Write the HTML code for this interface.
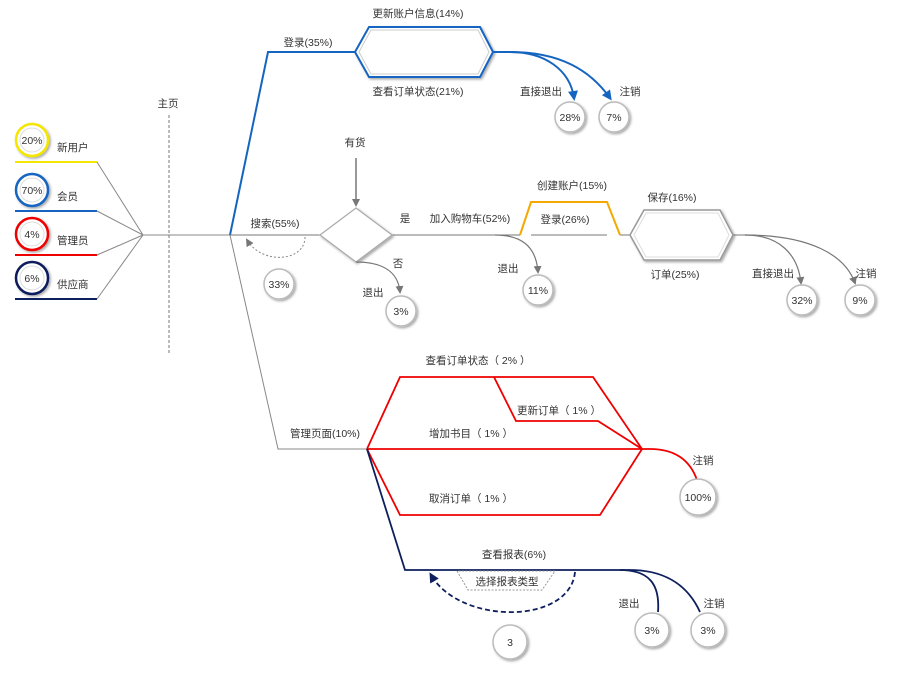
<!DOCTYPE html>
<html><head><meta charset="utf-8"><style>
html,body{margin:0;padding:0;background:#fff;}
svg{display:block;}
text{font-family:"Liberation Sans","Noto Sans CJK SC",sans-serif;font-size:10.5px;fill:#333;}
</style></head><body>
<svg width="904" height="673" viewBox="0 0 904 673" xmlns="http://www.w3.org/2000/svg">
<defs>
<marker id="ag" markerWidth="8" markerHeight="8" refX="6" refY="4" orient="auto" markerUnits="userSpaceOnUse"><path d="M0,0 L8,4 L0,8 Z" fill="#777"/></marker>
<marker id="ab" markerWidth="10" markerHeight="10" refX="7" refY="5" orient="auto" markerUnits="userSpaceOnUse"><path d="M0,0 L10,5 L0,10 Z" fill="#1565c0"/></marker>
<marker id="an" markerWidth="10" markerHeight="10" refX="7" refY="5" orient="auto" markerUnits="userSpaceOnUse"><path d="M0,0 L10,5 L0,10 Z" fill="#0d1f5c"/></marker>
<filter id="sh" x="-30%" y="-30%" width="160%" height="160%"><feDropShadow dx="1.5" dy="1.5" stdDeviation="1.2" flood-color="#000" flood-opacity="0.35"/></filter>
</defs>
<g fill="none" stroke-linejoin="miter">
<line x1="15" y1="162" x2="97" y2="162" stroke="#f5e600" stroke-width="2"/>
<line x1="15" y1="211" x2="97" y2="211" stroke="#1565c0" stroke-width="2"/>
<line x1="15" y1="255" x2="97" y2="255" stroke="#e00" stroke-width="2"/>
<line x1="15" y1="299" x2="97" y2="299" stroke="#0d1f5c" stroke-width="2"/>
<path d="M97,162 L143,235 M97,211 L143,235 M97,255 L143,235 M97,299 L143,235 M143,235 L230,235" stroke="#888" stroke-width="1"/>
<line x1="169" y1="115" x2="169" y2="355" stroke="#777" stroke-dasharray="3,2"/>
<path d="M230,235 L268,52 L355,52" stroke="#1565c0" stroke-width="2"/>
<polygon points="355,52 369,27 480,27 493,52 480,77 369,77" stroke="#1565c0" stroke-width="2" fill="#fff" filter="url(#sh)"/>
<polygon points="359,52 371,30 478,30 489,52 478,74 371,74" stroke="#ccc" stroke-width="1"/>
<path d="M493,52 L510,52 C545,52 570,70 574,98" stroke="#1565c0" stroke-width="2" marker-end="url(#ab)"/>
<path d="M510,52 C560,52 590,70 610,98" stroke="#1565c0" stroke-width="2" marker-end="url(#ab)"/>
<path d="M230,235 L320,235 M392,235 L520,235 M620,235 L630,235 M733,235 L745,235" stroke="#777" stroke-width="1"/>
<polygon points="320,235 356,208 392,235 356,262" stroke="#aaa" stroke-width="1.2" fill="#fff" filter="url(#sh)"/>
<path d="M520,235 L531,202 L607,202 L620,235" stroke="#f5a800" stroke-width="2"/>
<line x1="531" y1="235" x2="607" y2="235" stroke="#777"/>
<polygon points="630,235 644,210 720,210 733,235 720,260 644,260" stroke="#999" stroke-width="1.5" fill="#fff" filter="url(#sh)"/>
<polygon points="634,235 646,213 718,213 729,235 718,257 646,257" stroke="#ddd" stroke-width="1"/>
<line x1="356" y1="158" x2="356" y2="205" stroke="#777" stroke-width="1.5" marker-end="url(#ag)"/>
<path d="M305,237 C305,262 262,265 247,240" stroke="#888" stroke-dasharray="2,2" marker-end="url(#ag)"/>
<path d="M356,262 C380,262 398,270 400,292" stroke="#777" stroke-width="1.2" marker-end="url(#ag)"/>
<path d="M495,235 C520,235 536,245 538,272" stroke="#777" stroke-width="1.2" marker-end="url(#ag)"/>
<path d="M745,235 C780,235 798,255 801,283" stroke="#777" stroke-width="1.2" marker-end="url(#ag)"/>
<path d="M745,235 C810,235 845,255 855,283" stroke="#777" stroke-width="1.2" marker-end="url(#ag)"/>
<path d="M230,235 L278,449 L367,449" stroke="#888" stroke-width="1"/>
<path d="M367,449 L400,377 L593,377 L642,449 M367,449 L642,449 M367,449 L400,515 L600,515 L642,449 M494,377 L516,421 L598,421 L642,449" stroke="#e00" stroke-width="1.8"/>
<path d="M642,449 L650,449 C675,449 690,460 697,480" stroke="#e00" stroke-width="1.8"/>
<path d="M367,449 L405,570 L630,570" stroke="#0d1f5c" stroke-width="1.8"/>
<path d="M620,570 C650,570 660,585 658,612" stroke="#0d1f5c" stroke-width="1.8"/>
<path d="M630,570 C670,570 690,590 700,612" stroke="#0d1f5c" stroke-width="1.8"/>
<polygon points="457,571 468,590 542,590 555,571" stroke="#999" stroke-dasharray="2,1.5" fill="#fff"/>
<path d="M575,572 C570,625 460,625 431,575" stroke="#0d1f5c" stroke-width="1.8" stroke-dasharray="5,3" marker-end="url(#an)"/>
</g>
<g filter="url(#sh)">
<circle cx="32" cy="140" r="16" fill="#fff" stroke="#f5e600" stroke-width="2.5"/>
<circle cx="32" cy="190" r="16" fill="#fff" stroke="#1565c0" stroke-width="2.5"/>
<circle cx="32" cy="234" r="16" fill="#fff" stroke="#e00" stroke-width="2.5"/>
<circle cx="32" cy="278" r="16" fill="#fff" stroke="#0d1f5c" stroke-width="2.5"/>
</g>
<g fill="#fff" stroke="#bbb" stroke-width="1.5" filter="url(#sh)">
<circle cx="570" cy="117" r="15"/><circle cx="614" cy="117" r="15"/>
<circle cx="279" cy="284" r="15"/><circle cx="401" cy="311" r="15"/>
<circle cx="538" cy="290" r="15"/><circle cx="802" cy="300" r="15"/>
<circle cx="860" cy="300" r="15"/><circle cx="698" cy="497" r="18"/>
<circle cx="652" cy="630" r="17"/><circle cx="708" cy="630" r="17"/>
<circle cx="510" cy="642" r="17"/>
</g>
<g fill="none" stroke="#ddd" stroke-width="1">
<circle cx="32" cy="140" r="12"/><circle cx="32" cy="190" r="12"/><circle cx="32" cy="234" r="12"/><circle cx="32" cy="278" r="12"/>
</g>
<g text-anchor="middle">
<text x="32" y="144">20%</text><text x="32" y="194">70%</text><text x="32" y="238">4%</text><text x="32" y="282">6%</text>
<text x="570" y="121">28%</text><text x="614" y="121">7%</text>
<text x="279" y="288">33%</text><text x="401" y="315">3%</text><text x="538" y="294">11%</text>
<text x="802" y="304">32%</text><text x="860" y="304">9%</text><text x="698" y="501">100%</text>
<text x="652" y="634">3%</text><text x="708" y="634">3%</text><text x="510" y="646">3</text>
<text x="168" y="107">主页</text>
<text x="418" y="17">更新账户信息(14%)</text>
<text x="308" y="46">登录(35%)</text>
<text x="418" y="95">查看订单状态(21%)</text>
<text x="541" y="95">直接退出</text>
<text x="630" y="95">注销</text>
<text x="355" y="146">有货</text>
<text x="405" y="222">是</text>
<text x="470" y="222">加入购物车(52%)</text>
<text x="572" y="189">创建账户(15%)</text>
<text x="565" y="223">登录(26%)</text>
<text x="672" y="201">保存(16%)</text>
<text x="675" y="278">订单(25%)</text>
<text x="773" y="277">直接退出</text>
<text x="866" y="277">注销</text>
<text x="275" y="227">搜索(55%)</text>
<text x="398" y="267">否</text>
<text x="373" y="296">退出</text>
<text x="508" y="272">退出</text>
<text x="325" y="437">管理页面(10%)</text>
<text x="478" y="364">查看订单状态（ 2% ）</text>
<text x="559" y="414">更新订单（ 1% ）</text>
<text x="471" y="437">增加书目（ 1% ）</text>
<text x="471" y="502">取消订单（ 1% ）</text>
<text x="703" y="464">注销</text>
<text x="514" y="558">查看报表(6%)</text>
<text x="507" y="585">选择报表类型</text>
<text x="629" y="607">退出</text>
<text x="714" y="607">注销</text>
</g>
<g>
<text x="57" y="151">新用户</text>
<text x="57" y="200">会员</text>
<text x="57" y="244">管理员</text>
<text x="57" y="288">供应商</text>
</g>
</svg>
</body></html>
